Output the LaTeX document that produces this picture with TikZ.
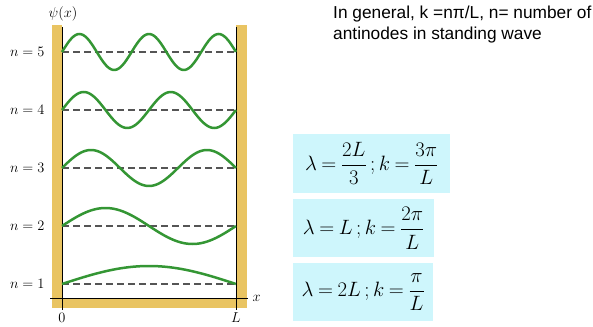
\documentclass[tikz,border=0pt]{standalone}
\usepackage{amsmath}
\usepackage{fontspec}
\newfontfamily\notefont{Liberation Sans}
\usetikzlibrary{positioning}
\definecolor{wallgold}{RGB}{233,196,98}
\definecolor{wavegreen}{RGB}{52,150,52}
\definecolor{boxcyan}{RGB}{206,246,252}
\definecolor{dashgray}{RGB}{85,85,85}
\newcommand{\tightrel}{\thickmuskip=4mu\relax}
\tikzset{
	restline/.style={draw=dashgray, line width=1.2pt, dash pattern=on 7pt off 4pt},
	wave/.style={draw=wavegreen, line width=2.5pt},
	nlabel/.style={anchor=east, font=\fontsize{14.5}{16}\selectfont},
	axislabel/.style={font=\fontsize{15}{17}\selectfont},
	formbox/.style={fill=boxcyan, anchor=north west, inner sep=0pt,
		font=\fontsize{22}{25}\selectfont}
}
\begin{document}
\begin{tikzpicture}[x=1pt, y=-1pt]
	\useasboundingbox (0,0) rectangle (593,326);
	
	% walls of the box
	\fill[wallgold] (52,25) rectangle (62,308);
	\fill[wallgold] (236,25) rectangle (247,308);
	\fill[wallgold] (52,298) rectangle (247,308);
	
	\coordinate (ltop) at (62,27);
	\coordinate (lbot) at (62,310);
	\coordinate (rtop) at (236,27);
	\coordinate (rbot) at (236,310);
	\coordinate (xstart) at (50,298);
	\coordinate (xend) at (248,298);
	\draw[line width=0.8pt] (ltop) -- (lbot);
	\draw[line width=0.8pt] (rtop) -- (rbot);
	\draw[line width=0.8pt] (xstart) -- (xend);
	
	\node (xlab) [right=1pt of xend, axislabel] {$x$};
	\node (zero) at (62,318) [axislabel] {$0$};
	\node (ell) at (236,318) [axislabel] {$L$};
	\node (psi) at (63,14) [axislabel] {$\psi(x)$};
	
	% standing waves
	\foreach \n in {1,...,5} {
		\pgfmathsetmacro\yb{284-58*(\n-1)}
		\coordinate (l\n) at (62,\yb);
		\coordinate (r\n) at (236,\yb);
		\draw[restline] (l\n) -- (r\n);
		\draw[wave] plot[domain=0:1, samples=90, smooth] ({62+174*\x},{\yb-18*sin(\n*180*\x)});
		\node[nlabel] (n\n) at (48,\yb) {$n=\n$};
	}
	
	\node (note) at (333,6) [anchor=north west, align=left, inner sep=0pt,
		font=\notefont\fontsize{17.3}{21}\selectfont]
		{In general, k =nπ/L, n= number of\\antinodes in standing wave};
	
	\node (kthree) at (293,134) [formbox, minimum width=157pt, minimum height=59pt]
		{$\tightrel\displaystyle \lambda=\frac{2L}{3}\,;k=\frac{3\pi}{L}$};
	\node (ktwo) at (293,199) [formbox, minimum width=141pt, minimum height=58pt]
		{$\tightrel\displaystyle \lambda=L\,;k=\frac{2\pi}{L}$};
	\node (kone) at (293,263) [formbox, minimum width=140pt, minimum height=58pt]
		{$\tightrel\displaystyle \lambda=2L\,;k=\frac{\pi}{L}$};
	
\end{tikzpicture}
\end{document}
